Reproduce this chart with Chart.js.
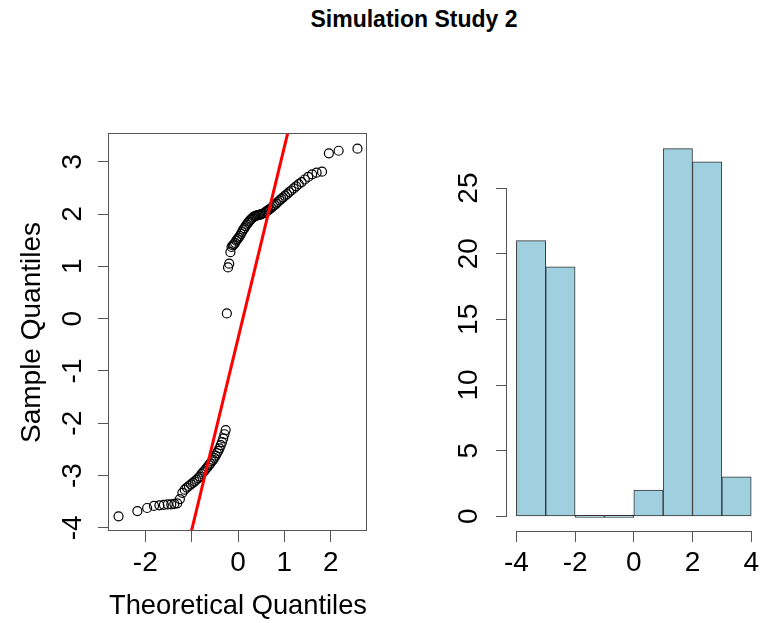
<!DOCTYPE html>
<html>
<head>
<meta charset="utf-8">
<script src="https://cdn.jsdelivr.net/npm/chart.js@4.4.1/dist/chart.umd.min.js"></script>
<style>
    html, body { margin: 0; padding: 0; background: #fff; overflow: hidden; }
    body { width: 762px; height: 623px; position: relative; }
    #title {
        position: absolute; left: 0; top: 8px; width: 828px;
        text-align: center; color: #000;
        font: bold 23px "Liberation Sans", Arial, sans-serif; line-height: 23px;
    }
    .panel { position: absolute; top: 0; height: 623px; }
    #qqWrap { left: 0; width: 390px; }
    #histWrap { left: 390px; width: 373px; }
</style>
</head>
<body>
<div id="title">Simulation Study 2</div>
<div class="panel" id="qqWrap"><canvas id="qqChart" width="390" height="623"></canvas></div>
<div class="panel" id="histWrap"><canvas id="histChart" width="373" height="623"></canvas></div>
<script>
// normal quantiles of the 100 sorted samples
const theoreticalQuantiles = [
    -2.5758, -2.1701, -1.9600, -1.8119, -1.6954, -1.5982, -1.5141, -1.4395, -1.3722, -1.3106,
    -1.2536, -1.2004, -1.1503, -1.1031, -1.0581, -1.0152, -0.9741, -0.9346, -0.8965, -0.8596,
    -0.8239, -0.7892, -0.7554, -0.7225, -0.6903, -0.6588, -0.6280, -0.5978, -0.5681, -0.5388,
    -0.5101, -0.4817, -0.4538, -0.4261, -0.3989, -0.3719, -0.3451, -0.3186, -0.2924, -0.2663,
    -0.2404, -0.2147, -0.1891, -0.1637, -0.1383, -0.1130, -0.0878, -0.0627, -0.0376, -0.0125,
    0.0125, 0.0376, 0.0627, 0.0878, 0.1130, 0.1383, 0.1637, 0.1891, 0.2147, 0.2404,
    0.2663, 0.2924, 0.3186, 0.3451, 0.3719, 0.3989, 0.4261, 0.4538, 0.4817, 0.5101,
    0.5388, 0.5681, 0.5978, 0.6280, 0.6588, 0.6903, 0.7225, 0.7554, 0.7892, 0.8239,
    0.8596, 0.8965, 0.9346, 0.9741, 1.0152, 1.0581, 1.1031, 1.1503, 1.2004, 1.2536,
    1.3106, 1.3722, 1.4395, 1.5141, 1.5982, 1.6954, 1.8119, 1.9600, 2.1701, 2.5758
];
const sampleQuantiles = [
    -3.78, -3.68, -3.62, -3.58, -3.57, -3.56, -3.55, -3.55, -3.54, -3.53,
    -3.45, -3.33, -3.27, -3.23, -3.20, -3.17, -3.14, -3.11, -3.08, -3.05,
    -3.02, -2.97, -2.94, -2.91, -2.87, -2.84, -2.80, -2.77, -2.73, -2.70,
    -2.66, -2.62, -2.57, -2.53, -2.48, -2.42, -2.36, -2.29, -2.21, -2.13,
    0.10, 0.98, 1.05, 1.27, 1.37, 1.40, 1.42, 1.45, 1.49, 1.52,
    1.55, 1.58, 1.62, 1.66, 1.70, 1.73, 1.77, 1.80, 1.83, 1.86,
    1.89, 1.91, 1.93, 1.95, 1.96, 1.97, 1.98, 1.985, 1.99, 1.997,
    2.01, 2.02, 2.04, 2.06, 2.08, 2.10, 2.12, 2.15, 2.17, 2.20,
    2.23, 2.26, 2.29, 2.32, 2.35, 2.38, 2.42, 2.45, 2.49, 2.53,
    2.57, 2.61, 2.66, 2.71, 2.76, 2.79, 2.81, 3.16, 3.21, 3.25
];
const qqLineX = [-1.05, 1.10];
const qqLineY = [-4.23, 3.65];

const qqXTicks = [-2, -1, 0, 1, 2];
const qqXTickLabels = ["-2", "", "0", "1", "2"];
const qqYTicks = [-4, -3, -2, -1, 0, 1, 2, 3];

const histBreaks = [-4, -3, -2, -1, 0, 1, 2, 3, 4];
const histCounts = [21, 19, 0, 0, 2, 28, 27, 3];
const histXTicks = [-4, -2, 0, 2, 4];
const histYTicks = [0, 5, 10, 15, 20, 25];

const FONT = '"Liberation Sans", Arial, Helvetica, sans-serif';
const AXIS_GREY = "#555";
Chart.defaults.font.family = FONT;
Chart.defaults.color = "#000";

// full box round the qq panel, like R's plot frame
const boxFrame = {
    id: "boxFrame",
    afterDraw(chart) {
        const { ctx, chartArea } = chart;
        ctx.save();
        ctx.strokeStyle = AXIS_GREY;
        ctx.lineWidth = 1;
        ctx.strokeRect(
            Math.round(chartArea.left) - 0.5,
            Math.round(chartArea.top) - 0.5,
            Math.round(chartArea.right - chartArea.left),
            Math.round(chartArea.bottom - chartArea.top)
        );
        ctx.restore();
    }
};

// R style axis lines that only run from the first tick to the last
const rAxisLines = {
    id: "rAxisLines",
    afterDraw(chart) {
        const { ctx, chartArea, scales } = chart;
        const xs = scales.x;
        const ys = scales.y;
        const yLine = Math.round(chartArea.bottom) + 0.5;
        const xLine = Math.round(chartArea.left) - 0.5;
        ctx.save();
        ctx.strokeStyle = AXIS_GREY;
        ctx.lineWidth = 1;
        ctx.beginPath();
        ctx.moveTo(xs.getPixelForValue(histXTicks[0]), yLine);
        ctx.lineTo(xs.getPixelForValue(histXTicks[histXTicks.length - 1]), yLine);
        ctx.moveTo(xLine, ys.getPixelForValue(histYTicks[0]));
        ctx.lineTo(xLine, ys.getPixelForValue(histYTicks[histYTicks.length - 1]));
        ctx.stroke();
        ctx.restore();
    }
};

function xAxis(min, max, tickValues, labels, title) {
    return {
        type: "linear",
        min: min,
        max: max,
        offset: false,
        afterBuildTicks: (scale) => { scale.ticks = tickValues.map((v) => ({ value: v })); },
        afterFit: (scale) => { scale.height = 92; },
        grid: { drawOnChartArea: false, tickLength: 11, color: AXIS_GREY, offset: false },
        border: { display: false },
        ticks: {
            autoSkip: false,
            maxRotation: 0,
            padding: 4,
            font: { size: 28 },
            color: "#000",
            callback: (value, index) => labels[index]
        },
        title: {
            display: !!title,
            text: title,
            font: { size: 28 },
            color: "#000",
            padding: { top: 0, bottom: 0 }
        }
    };
}

function yAxis(min, max, tickValues, width, pad, title) {
    return {
        type: "linear",
        min: min,
        max: max,
        afterBuildTicks: (scale) => { scale.ticks = tickValues.map((v) => ({ value: v })); },
        afterFit: (scale) => { scale.width = width; },
        grid: { drawOnChartArea: false, tickLength: 11, color: AXIS_GREY },
        border: { display: false },
        ticks: {
            autoSkip: false,
            minRotation: 90,
            maxRotation: 90,
            crossAlign: "center",
            padding: pad,
            font: { size: 28 },
            color: "#000",
            callback: (value) => String(value)
        },
        title: {
            display: !!title,
            text: title,
            font: { size: 28 },
            color: "#000",
            padding: { top: 15, bottom: 0 }
        }
    };
}

new Chart(document.getElementById("qqChart"), {
    type: "scatter",
    data: {
        datasets: [
            {
                type: "line",
                data: qqLineX.map((x, i) => ({ x: x, y: qqLineY[i] })),
                borderColor: "#ff0000",
                borderWidth: 3,
                pointRadius: 0,
                clip: 0
            },
            {
                data: theoreticalQuantiles.map((x, i) => ({ x: x, y: sampleQuantiles[i] })),
                pointStyle: "circle",
                pointRadius: 4.5,
                borderWidth: 1.2,
                borderColor: "#000",
                backgroundColor: "rgba(0,0,0,0)"
            }
        ]
    },
    options: {
        responsive: false,
        animation: false,
        layout: { padding: { left: 0, right: 23, top: 134, bottom: 0 } },
        plugins: { legend: { display: false }, tooltip: { enabled: false } },
        scales: {
            x: xAxis(-2.782, 2.782, qqXTicks, qqXTickLabels, "Theoretical Quantiles"),
            y: yAxis(-4.06, 3.53, qqYTicks, 109, 12, "Sample Quantiles")
        }
    },
    plugins: [boxFrame]
});

new Chart(document.getElementById("histChart"), {
    type: "bar",
    data: {
        datasets: [{
            data: histCounts.map((c, i) => ({ x: (histBreaks[i] + histBreaks[i + 1]) / 2, y: c })),
            backgroundColor: "#A0CFE0",
            borderColor: "#333",
            borderWidth: 1,
            borderSkipped: false,
            barPercentage: 1,
            categoryPercentage: 1,
            minBarLength: 2
        }]
    },
    options: {
        responsive: false,
        animation: false,
        layout: { padding: { left: 0, right: 0, top: 134, bottom: 0 } },
        plugins: { legend: { display: false }, tooltip: { enabled: false } },
        scales: {
            x: xAxis(-4.32, 4.32, histXTicks, histXTicks.map(String), ""),
            y: yAxis(-1.12, 29.12, histYTicks, 117, 11, "")
        }
    },
    plugins: [rAxisLines]
});
</script>
</body>
</html>
